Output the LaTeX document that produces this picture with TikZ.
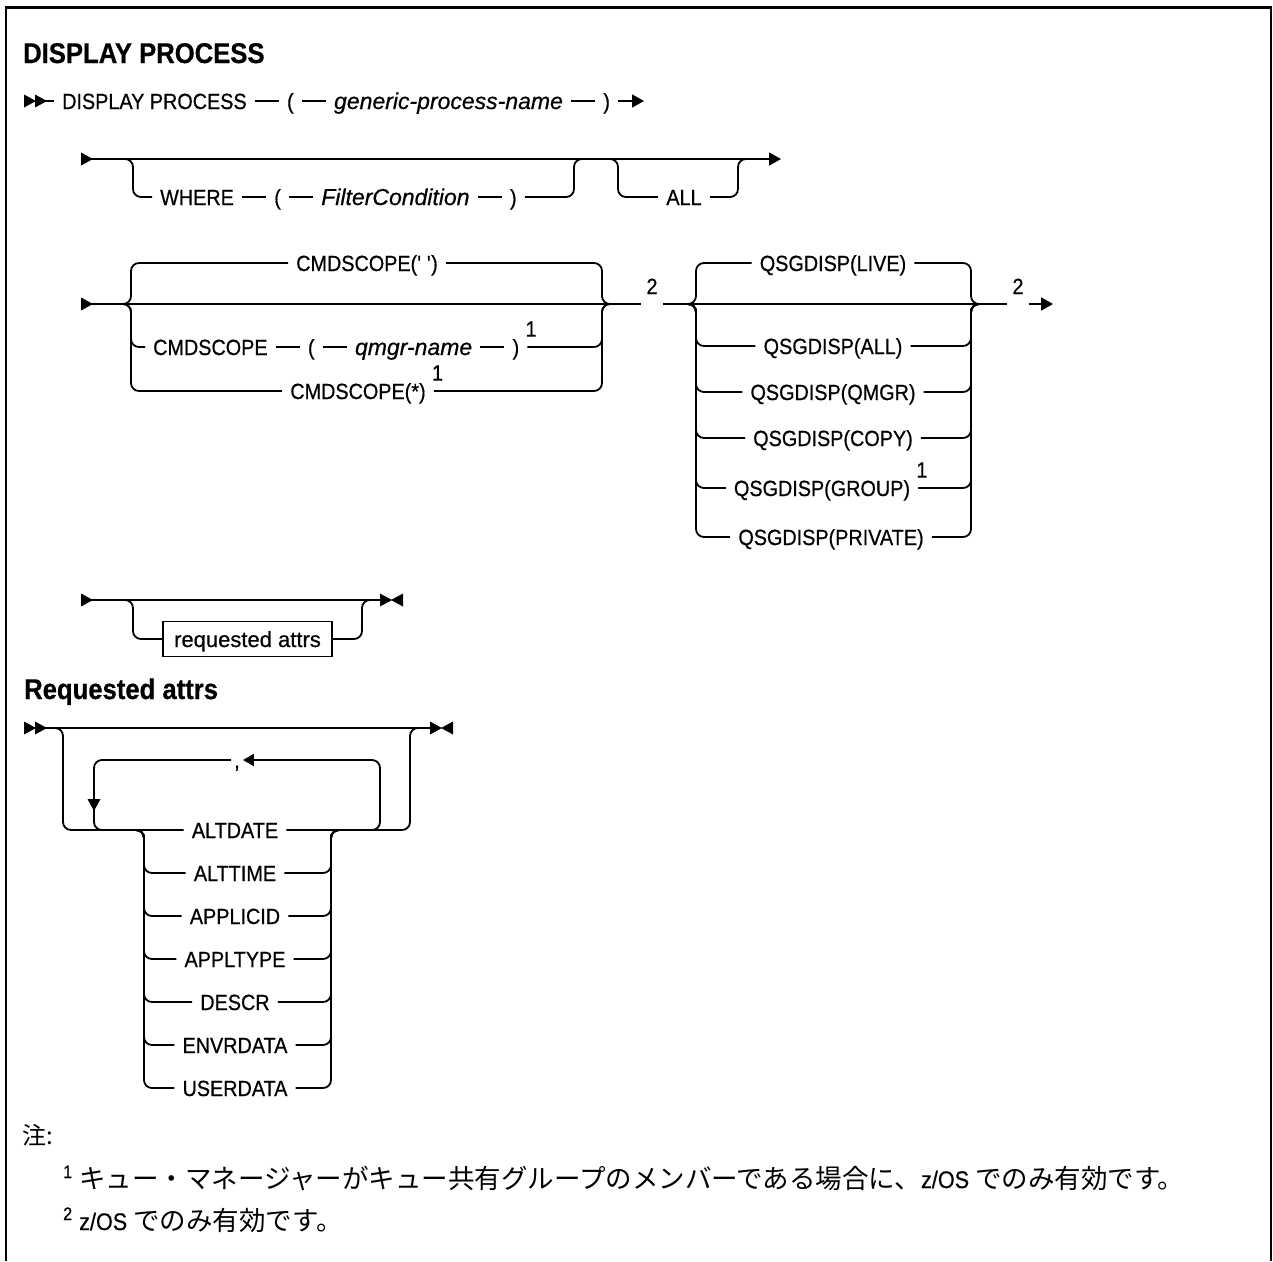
\documentclass[tikz,border=0pt]{standalone}
\usepackage{fontspec}
\setmainfont{Liberation Sans}[FakeStretch=0.9,FakeBold=0.6]
\newfontfamily\lcfont{Liberation Sans}[FakeBold=0.6]
\newfontfamily\jafont{Noto Sans CJK JP}
\usetikzlibrary{arrows.meta,positioning}

\begin{document}
\begin{tikzpicture}[x=1pt,y=-1pt,node distance=24pt,
    rail/.style={line width=1.8pt,rounded corners=8pt},
    fwd/.style={-{Triangle[length=12pt,width=13pt]}},
    kw/.style={font=\fontsize{22}{26}\selectfont,inner xsep=8pt,inner ysep=0pt,text height=19pt,text depth=3pt},
    var/.style={kw,font=\lcfont\fontsize{23}{26}\selectfont\itshape},
    sup/.style={font=\fontsize{22}{24}\selectfont,inner sep=0pt},
    hdr/.style={font=\fontsize{28.5}{32}\selectfont\bfseries,anchor=base west,inner sep=0pt},
    refbox/.style={draw,line width=1.5pt,font=\lcfont\fontsize{22}{26}\selectfont,minimum width=169pt,minimum height=35pt,inner sep=0pt,text height=19pt,text depth=3pt},
    note/.style={font=\jafont\fontsize{26.5}{30}\selectfont,anchor=base west,inner sep=0pt},
    rtri/.pic={\fill (-6,-6.5) -- (6,0) -- (-6,6.5) -- cycle;},
    ltri/.pic={\fill (6,-6.5) -- (-6,0) -- (6,6.5) -- cycle;},
    dtri/.pic={\fill (-6.5,-6) -- (6.5,-6) -- (0,6) -- cycle;}]
    \useasboundingbox (0,0) rectangle (1273,1261);
    \draw[line width=2.5pt] (6,1261) -- (6,7.5) -- (1271,7.5) -- (1271,1261);

    \node[hdr] (title) at (23,63) {DISPLAY PROCESS};

    \pic at (30,101) {rtri};
    \pic at (41,101) {rtri};
    \coordinate (r1a) at (44,101);
    \node[kw,anchor=west] (dispcmd) at (54,101) {DISPLAY PROCESS};
    \node[kw,right=of dispcmd] (lp1) {(};
    \node[var,right=of lp1] (gpn) {generic-process-name};
    \node[kw,right=of gpn] (rp1) {)};
    \coordinate (r1e) at (644,101);
    \draw[rail] (r1a) -- (dispcmd) -- (lp1) -- (gpn) -- (rp1);
    \draw[rail,fwd] (rp1) -- (r1e);

    \pic at (87,159) {rtri};
    \coordinate (r2a) at (90,159);
    \coordinate (r2e) at (781,159);
    \draw[rail,fwd] (r2a) -- (r2e);
    \coordinate (wl) at (125,159);
    \coordinate (wr) at (574,159);
    \node[kw,anchor=west] (where) at (152,197) {WHERE};
    \node[kw,right=of where] (lp2) {(};
    \node[var,right=of lp2] (fc) {FilterCondition};
    \node[kw,right=of fc] (rp2) {)};
    \draw[rail] (wl) -- ++(8,0) |- (where);
    \draw[rail] (where) -- (lp2) -- (fc) -- (rp2);
    \draw[rail] (rp2) -| (wr) -- ++(8,0);
    \coordinate (al) at (610,159);
    \coordinate (ar) at (738,159);
    \node[kw] (all) at (684,197) {ALL};
    \draw[rail] (al) -- ++(8,0) |- (all);
    \draw[rail] (all) -| (ar) -- ++(8,0);

    \pic at (87,304) {rtri};
    \coordinate (r3a) at (90,304);
    \coordinate (cl) at (123,304);
    \coordinate (cr) at (602,304);
    \node[kw] (cs0) at (367,263) {CMDSCOPE(\textquotesingle\ \textquotesingle)};
    \node[kw,anchor=west] (cs1) at (145,347) {CMDSCOPE};
    \node[kw,right=of cs1] (lp3) {(};
    \node[var,right=of lp3] (qmn) {qmgr-name};
    \node[kw,right=of qmn] (rp3) {)};
    \node[sup,anchor=west] (f1a) at ([xshift=-2pt,yshift=18pt]rp3.east) {1};
    \node[kw] (cs2) at (358,391) {CMDSCOPE(*)};
    \node[sup,anchor=west] (f1b) at ([xshift=-2pt,yshift=18pt]cs2.east) {1};
    \draw[rail] (cl) -- ++(8,0) |- (cs0);
    \draw[rail] (cl) -- ++(8,0) |- (cs1);
    \draw[rail] (cl) -- ++(8,0) |- (cs2);
    \draw[rail] (cs1) -- (lp3) -- (qmn) -- (rp3);
    \draw[rail] (cs0) -| (cr) -- ++(8,0);
    \draw[rail] (rp3) -| (cr) -- ++(8,0);
    \draw[rail] (cs2) -| (cr) -- ++(8,0);
    \node[kw,inner xsep=5pt] (n2a) at (652,304) {\raisebox{18pt}{\fontsize{22}{24}\selectfont 2}};
    \draw[rail] (r3a) -- (n2a);

    \coordinate (ql) at (688,304);
    \coordinate (qr) at (971,304);
    \node[kw] (qs0) at (833,263) {QSGDISP(LIVE)};
    \node[kw] (qs1) at (833,346) {QSGDISP(ALL)};
    \node[kw] (qs2) at (833,392) {QSGDISP(QMGR)};
    \node[kw] (qs3) at (833,438) {QSGDISP(COPY)};
    \node[kw] (qs4) at (822,488) {QSGDISP(GROUP)};
    \node[sup,anchor=west] (f1c) at ([xshift=-2pt,yshift=18pt]qs4.east) {1};
    \node[kw] (qs5) at (831,537) {QSGDISP(PRIVATE)};
    \foreach \q in {qs0,qs1,qs2,qs3,qs4,qs5} {
        \draw[rail] (ql) -- ++(8,0) |- (\q);
        \draw[rail] (\q) -| (qr) -- ++(8,0);
    }
    \node[kw,inner xsep=5pt] (n2b) at (1018,304) {\raisebox{18pt}{\fontsize{22}{24}\selectfont 2}};
    \coordinate (r3e) at (1053,304);
    \draw[rail] (n2a) -- (n2b);
    \draw[rail,fwd] (n2b) -- (r3e);

    \pic at (87,600) {rtri};
    \coordinate (r5a) at (90,600);
    \coordinate (r5e) at (386,600);
    \pic at (386,600) {rtri};
    \pic at (397,600) {ltri};
    \draw[rail] (r5a) -- (r5e);
    \coordinate (bl) at (125,600);
    \coordinate (br) at (362,600);
    \node[refbox] (reqbox) at (247.5,639) {requested attrs};
    \draw[rail] (bl) -- ++(8,0) |- (reqbox);
    \draw[rail] (reqbox) -| (br) -- ++(8,0);

    \node[hdr] (reqhd) at (24,699) {Requested attrs};

    \pic at (30,728) {rtri};
    \pic at (41,728) {rtri};
    \coordinate (t0) at (44,728);
    \coordinate (te) at (436,728);
    \pic at (436,728) {rtri};
    \pic at (447,728) {ltri};
    \draw[rail] (t0) -- (te);
    \coordinate (tl) at (55,728);
    \coordinate (tr) at (410,728);
    \node[kw] (altd) at (235,830) {ALTDATE};
    \draw[rail] (tl) -- ++(8,0) |- (altd);
    \draw[rail] (altd) -| (tr) -- ++(8,0);
    \coordinate (cl2) at (136,830);
    \coordinate (cr2) at (331,830);
    \foreach \nm/\lbl/\yy in {altt/ALTTIME/873,appid/APPLICID/916,apty/APPLTYPE/959,desc/DESCR/1002,envr/ENVRDATA/1045,usrd/USERDATA/1088} {
        \node[kw] (\nm) at (235,\yy) {\lbl};
        \draw[rail] (cl2) -- ++(8,0) |- (\nm);
        \draw[rail] (\nm) -| (cr2) -- ++(8,0);
    }
    \coordinate (lp0) at (372,830);
    \coordinate (ll) at (94,830);
    \node[kw,inner xsep=3pt] (comma) at (237,760) {,};
    \draw[rail,-{Triangle[length=11pt,width=12pt]}] (lp0) -- ++(8,0) |- (comma);
    \draw[rail] (comma) -| (ll) -- ++(8,0);
    \pic at (94,805) {dtri};

    \node[anchor=west,font=\jafont\fontsize{24}{28}\selectfont,inner sep=0pt] (notehd) at (22,1135) {注:};
    \node[note] (note1) at (63,1188) {\raisebox{10pt}{\rmfamily\fontsize{18}{20}\selectfont 1}\hspace{7pt}キュー・マネージャーがキュー共有グループのメンバーである場合に、{\rmfamily\fontsize{24}{26}\selectfont z/OS} でのみ有効です。};
    \node[note] (note2) at (63,1230) {\raisebox{10pt}{\rmfamily\fontsize{18}{20}\selectfont 2}\hspace{7pt}{\rmfamily\fontsize{24}{26}\selectfont z/OS} でのみ有効です。};
\end{tikzpicture}
\end{document}
